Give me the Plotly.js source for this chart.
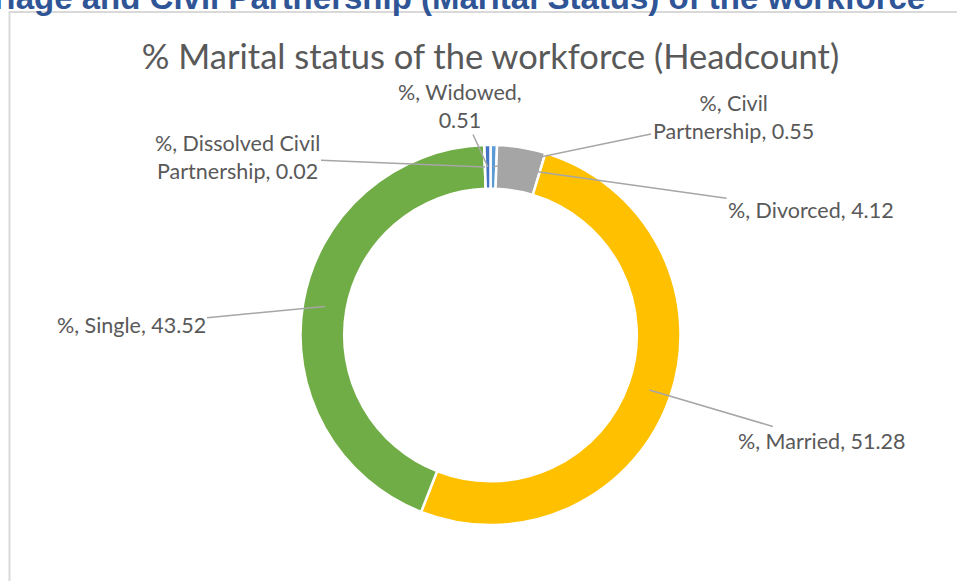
<!DOCTYPE html>
<html>
<head>
<meta charset="utf-8">
<script src="https://cdn.plot.ly/plotly-3.0.1.min.js"></script>
<style>html,body{margin:0;padding:0;background:#fff;}#chart{width:957px;height:581px;}</style>
</head>
<body>
<div id="chart"></div>
<script>
// ---- data ----
const seriesName = '%';
const categories = ['Civil Partnership', 'Divorced', 'Married', 'Single', 'Dissolved Civil Partnership', 'Widowed'];
const values = [0.55, 4.12, 51.28, 43.52, 0.02, 0.51];
const chartTitle = '% Marital status of the workforce (Headcount)';
const pageHeading = 'Marriage and Civil Partnership (Marital Status) of the workforce';

// ---- style ----
const colors = ['#5B9BD5', '#A5A5A5', '#FFC000', '#70AD47', '#ED7D31', '#4472C4'];
const W = 957, H = 581;
const CX = 490.5, CY = 335, R = 190, HOLE = 0.77;
// label centres (pixels) and word index where the label wraps
const labelPos = [[733, 117], [811, 210], [822, 441], [131, 325], [237, 157], [460, 106]];
const wrapAt = [2, null, null, null, 3, 2];

const total = values.reduce((a, b) => a + b, 0);
let cum = 0;
const annotations = [];
categories.forEach((cat, i) => {
  const mid = (cum + values[i] / 2) / total * 2 * Math.PI;
  cum += values[i];
  const rMid = R * (1 + HOLE) / 2;
  const tx = CX + rMid * Math.sin(mid);
  const ty = CY - rMid * Math.cos(mid);
  const words = `${seriesName}, ${cat}, ${values[i].toFixed(2)}`.split(' ');
  let text;
  if (wrapAt[i] !== null) {
    text = words.slice(0, wrapAt[i]).join(' ') + '<br>' + words.slice(wrapAt[i]).join(' ');
  } else {
    text = words.join(' ');
  }
  annotations.push({
    xref: 'paper', yref: 'paper',
    x: tx / W, y: 1 - ty / H,
    ax: labelPos[i][0] - tx, ay: labelPos[i][1] - ty,
    text: text,
    showarrow: true, arrowhead: 0, arrowwidth: 1.5, arrowcolor: '#A6A6A6',
    font: {family: 'Lato, "Open Sans", sans-serif', size: 21.5, color: '#595959'},
    align: 'center'
  });
});

annotations.push({
  xref: 'paper', yref: 'paper', x: 927 / W, y: 1 - 18 / H,
  xanchor: 'right', yanchor: 'bottom', showarrow: false,
  text: '<b>' + pageHeading + '</b>',
  font: {family: '"Liberation Sans", Arial, sans-serif', size: 33, color: '#2F5597'}
});

const trace = {
  type: 'pie',
  labels: categories,
  values: values,
  sort: false,
  direction: 'clockwise',
  rotation: 0,
  hole: HOLE,
  textinfo: 'none',
  hoverinfo: 'none',
  showlegend: false,
  marker: {colors: colors, line: {color: '#FFFFFF', width: 2.5}},
  domain: {x: [(CX - R) / W, (CX + R) / W], y: [(H - CY - R) / H, (H - CY + R) / H]}
};

const layout = {
  width: W, height: H,
  margin: {l: 0, r: 0, t: 0, b: 0},
  paper_bgcolor: '#FFFFFF',
  title: {
    text: chartTitle, x: CX / W, xanchor: 'center', y: 1 - 57 / H, yanchor: 'middle',
    font: {family: 'Lato, "Open Sans", sans-serif', size: 34.5, color: '#595959'}
  },
  annotations: annotations,
  shapes: [{
    type: 'rect', xref: 'paper', yref: 'paper',
    x0: 9.5 / W, x1: 1.05, y0: -0.05, y1: 1 - 12 / H,
    line: {color: '#D9D9D9', width: 2}, fillcolor: 'rgba(0,0,0,0)', layer: 'below'
  }]
};

Plotly.newPlot('chart', [trace], layout, {displayModeBar: false, staticPlot: true});
</script>
</body>
</html>
